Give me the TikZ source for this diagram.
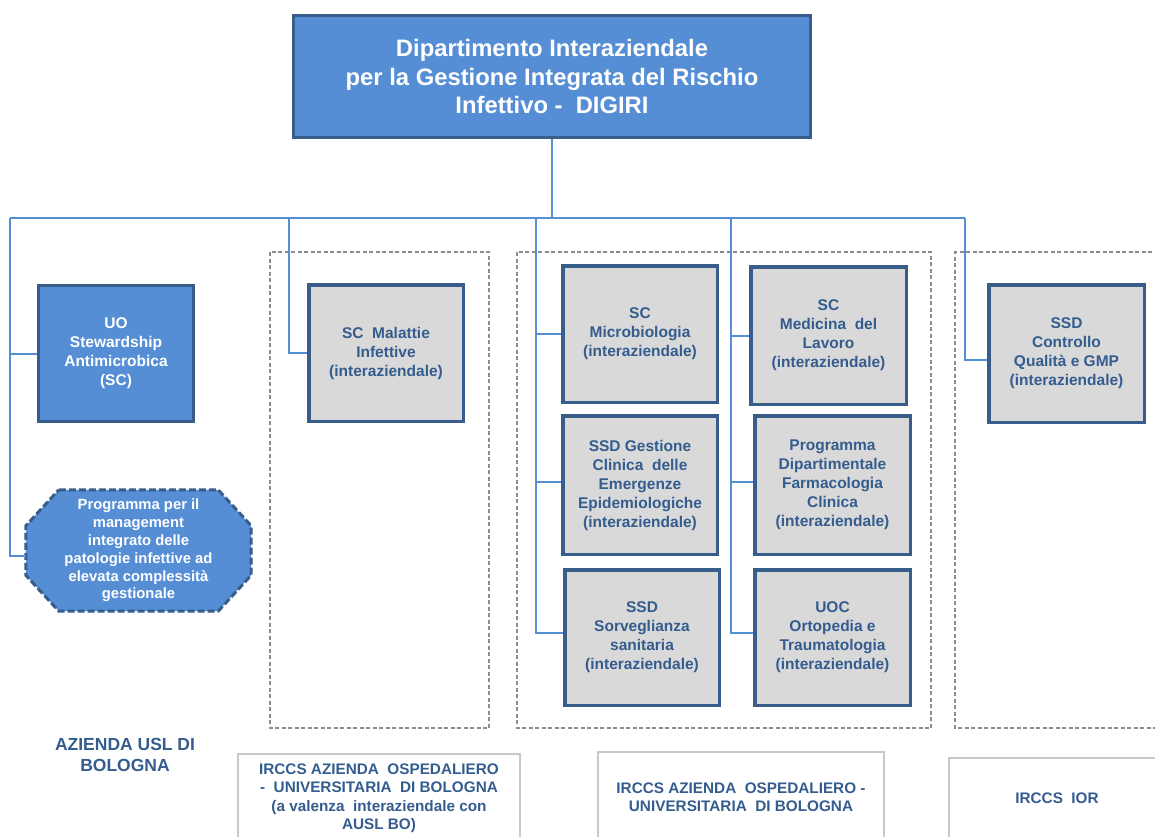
\documentclass[tikz,border=0pt]{standalone}
\usepackage{fontspec}
\setmainfont{Liberation Sans}
\usetikzlibrary{calc}
\definecolor{bluefill}{RGB}{85,142,213}
\definecolor{darkborder}{RGB}{56,93,138}
\definecolor{grayfill}{RGB}{217,217,217}
\definecolor{txtblue}{RGB}{52,92,142}
\definecolor{linkblue}{RGB}{85,142,213}
\definecolor{dashgray}{RGB}{140,140,140}
\definecolor{labgray}{RGB}{200,200,200}
\tikzset{
  boxfont/.style={font=\bfseries\fontsize{15.5}{19}\selectfont},
  bluebox/.style={draw=darkborder, line width=3pt, fill=bluefill, text=white, boxfont, align=center, inner sep=0pt},
  graybox/.style={draw=darkborder, line width=3.5pt, fill=grayfill, text=txtblue, boxfont, align=center, inner sep=0pt},
  conn/.style={draw=linkblue, line width=2pt},
  groupbox/.style={draw=dashgray, line width=1.6pt, dash pattern=on 4pt off 2.5pt},
  labeltext/.style={text=txtblue, font=\bfseries\fontsize{15.3}{18.5}\selectfont, align=center},
  labbox/.style={draw=labgray, line width=2pt},
}
\begin{document}
\begin{tikzpicture}[x=1pt,y=-1pt]
\useasboundingbox (0,0) rectangle (1155,836);
\begin{scope}
\clip (0,0) rectangle (1155,836);

% dashed groups
\draw[groupbox] (270,252) rectangle (489,728);
\draw[groupbox] (517,252) rectangle (931,728);
\draw[groupbox] (1165,252) -- (955,252) -- (955,728) -- (1165,728);

% bus coordinates
\coordinate (b0) at (10,218);
\coordinate (b1) at (289,218);
\coordinate (b2) at (536,218);
\coordinate (b3) at (731,218);
\coordinate (b4) at (965,218);

% top node
\node[bluebox, font=\bfseries\fontsize{23.8}{28.5}\selectfont, minimum width=517pt, minimum height=122pt] (top) at (552,76.5)
  {Dipartimento Interaziendale\\per la Gestione Integrata del Rischio\\Infettivo -\ \ DIGIRI};

% octagon
\node[inner sep=0pt, minimum width=225pt, minimum height=121pt] (octbox) at (138.5,550.5) {};
\draw[draw=darkborder, fill=bluefill, line width=3pt, dash pattern=on 7pt off 3pt]
  ($(octbox.north west)+(33,0)$) -- ($(octbox.north east)+(-33,0)$)
  -- ($(octbox.north east)+(0,36)$) -- ($(octbox.south east)+(0,-36)$)
  -- ($(octbox.south east)+(-33,0)$) -- ($(octbox.south west)+(33,0)$)
  -- ($(octbox.south west)+(0,-36)$) -- ($(octbox.north west)+(0,36)$) -- cycle;
\node[text=white, font=\bfseries\fontsize{14.8}{17.8}\selectfont, align=center] (octtxt) at (octbox.center)
  {Programma per il\\management\\integrato delle\\patologie infettive ad\\elevata complessità\\gestionale};

% boxes
\node[bluebox, minimum width=155pt, minimum height=136pt] (uo) at (116,353.5)
  {UO\\Stewardship\\Antimicrobica\\(SC)};
\node[graybox, minimum width=154.5pt, minimum height=136.5pt] (mal) at (386,353)
  {SC\ \ Malattie\\Infettive\\(interaziendale)};
\node[graybox, minimum width=154.5pt, minimum height=136.5pt] (micro) at (640,334)
  {SC\\Microbiologia\\(interaziendale)};
\node[graybox, minimum width=155.5pt, minimum height=137.5pt] (med) at (828.5,335.5)
  {SC\\Medicina\ \ del\\Lavoro\\(interaziendale)};
\node[graybox, minimum width=154.5pt, minimum height=138.5pt] (gest) at (640,485)
  {SSD Gestione\\Clinica\ \ delle\\Emergenze\\Epidemiologiche\\(interaziendale)};
\node[graybox, minimum width=155.5pt, minimum height=138.5pt] (prog) at (832.5,485)
  {Programma\\Dipartimentale\\Farmacologia\\Clinica\\(interaziendale)};
\node[graybox, minimum width=154.5pt, minimum height=135.5pt] (sorv) at (642,637.5)
  {SSD\\Sorveglianza\\sanitaria\\(interaziendale)};
\node[graybox, minimum width=155.5pt, minimum height=135.5pt] (orto) at (832.5,637.5)
  {UOC\\Ortopedia e\\Traumatologia\\(interaziendale)};
\node[graybox, minimum width=155.5pt, minimum height=137.5pt] (ctrl) at (1066.5,353.5)
  {SSD\\Controllo\\Qualità e GMP\\(interaziendale)};

% connectors
\draw[conn] (top.south) -- (top.south |- b0);
\draw[conn] (b0) -- (b4);
\draw[conn] (b0) |- (uo.west);
\draw[conn] (b0) |- ([yshift=-5pt]octbox.west);
\draw[conn] (b1) |- (mal.west);
\draw[conn] (b2) |- (micro.west);
\draw[conn] (b2) |- ([yshift=3pt]gest.west);
\draw[conn] (b2) |- ([yshift=4.5pt]sorv.west);
\draw[conn] (b3) |- (med.west);
\draw[conn] (b3) |- ([yshift=3pt]prog.west);
\draw[conn] (b3) |- ([yshift=4.5pt]orto.west);
\draw[conn] (b4) |- ([yshift=-6pt]ctrl.west);

% bottom labels
\node[labeltext, font=\bfseries\fontsize{17.5}{21}\selectfont] (ausl) at (125,754.5) {AZIENDA USL DI\\BOLOGNA};
\draw[labbox] (238,845) -- (238,754) -- (520,754) -- (520,845);
\node[labeltext] (aou1) at (379,798) {IRCCS AZIENDA\ \ OSPEDALIERO\\- \ UNIVERSITARIA\ \ DI BOLOGNA\\(a valenza\ \ interaziendale con\\AUSL BO)};
\draw[labbox] (598,845) -- (598,752) -- (884,752) -- (884,845);
\node[labeltext] (aou2) at (741,797) {IRCCS AZIENDA\ \ OSPEDALIERO -\\UNIVERSITARIA\ \ DI BOLOGNA};
\draw[labbox] (949,845) -- (949,758) -- (1165,758);
\node[labeltext] (ior) at (1057,798) {IRCCS\ \ IOR};
\end{scope}
\end{tikzpicture}
\end{document}
